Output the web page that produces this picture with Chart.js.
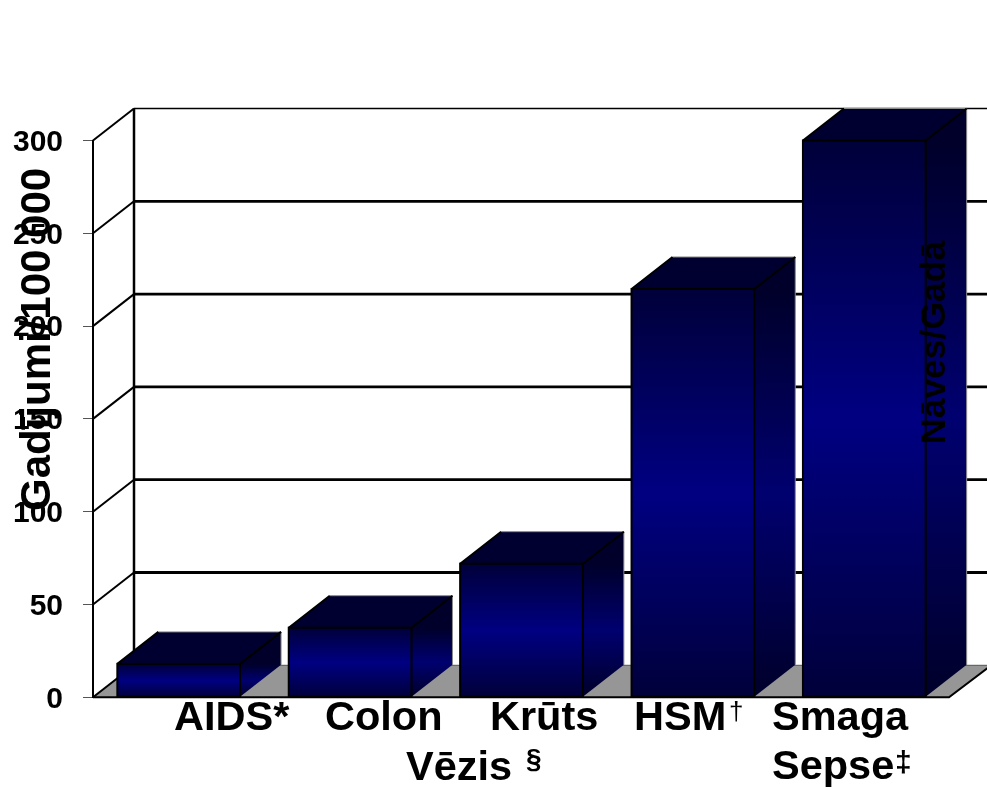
<!DOCTYPE html>
<html>
<head>
<meta charset="utf-8">
<style>
html, body { margin: 0; padding: 0; background: #fff; }
canvas { display: block; }
</style>
<script src="https://cdn.jsdelivr.net/npm/chart.js@4"></script>
</head>
<body>
<canvas id="chart" width="987" height="788"></canvas>
<script>
// Incidence per 100 000 population
const categories = ['AIDS', 'Colon', 'Krūts Vēzis', 'HSM', 'Smaga Sepse'];
const cases = [18, 37.5, 72, 220, 300];
const yTicks = [0, 50, 100, 150, 200, 250, 300];
const yTitle = 'Gadījumi/100 000';
const rightTitle = 'Nāves/Gadā';

const FONT = '"Liberation Sans", Arial, sans-serif';
const DEPTH_X = 41;
const DEPTH_Y = -32;

// Each text run of the hand-placed category captions
const captionRuns = [
  { text: 'AIDS*', x: 174, y: 730, size: 41.5 },
  { text: 'Colon', x: 325, y: 730, size: 41.5 },
  { text: 'Krūts', x: 490, y: 730, size: 41.5 },
  { text: 'Vēzis', x: 406, y: 780, size: 41.5 },
  { text: '§', x: 526, y: 768, size: 28 },
  { text: 'HSM', x: 634, y: 730, size: 41.5 },
  { text: '†', x: 729, y: 720, size: 26, weight: 'normal' },
  { text: 'Smaga', x: 772, y: 730, size: 41.5 },
  { text: 'Sepse', x: 772, y: 779, size: 41.5 },
  { text: '‡', x: 895, y: 772, size: 30 }
];

function axialGradient(ctx, top, bottom, edge, middle) {
  const g = ctx.createLinearGradient(0, top, 0, bottom);
  g.addColorStop(0, edge);
  g.addColorStop(0.5, middle);
  g.addColorStop(1, edge);
  return g;
}

// Back wall, floor and the side and top faces of each box
const backdrop = {
  id: 'backdrop',
  beforeDatasetsDraw(chart) {
    const { ctx, scales: { y }, chartArea } = chart;
    const left = chartArea.left;
    const right = chartArea.right;
    const zero = y.getPixelForValue(0);
    const top = y.getPixelForValue(yTicks[yTicks.length - 1]);
    ctx.save();

    // floor
    ctx.beginPath();
    ctx.moveTo(left, zero);
    ctx.lineTo(left + DEPTH_X, zero + DEPTH_Y);
    ctx.lineTo(right + DEPTH_X, zero + DEPTH_Y);
    ctx.lineTo(right, zero);
    ctx.closePath();
    ctx.fillStyle = '#969696';
    ctx.fill();
    ctx.strokeStyle = '#555';
    ctx.lineWidth = 1;
    ctx.beginPath();
    ctx.moveTo(left + DEPTH_X, zero + DEPTH_Y);
    ctx.lineTo(right + DEPTH_X, zero + DEPTH_Y);
    ctx.stroke();

    // horizontal wall lines and their returns to the value axis
    ctx.strokeStyle = '#000';
    yTicks.forEach(v => {
      const py = y.getPixelForValue(v);
      ctx.lineWidth = 2;
      ctx.beginPath();
      ctx.moveTo(left, py);
      ctx.lineTo(left + DEPTH_X, py + DEPTH_Y);
      ctx.stroke();
      if (v > 0) {
        ctx.lineWidth = v === yTicks[yTicks.length - 1] ? 1.5 : 2.8;
        ctx.beginPath();
        ctx.moveTo(left + DEPTH_X, py + DEPTH_Y);
        ctx.lineTo(chart.width, py + DEPTH_Y);
        ctx.stroke();
      }
    });

    // back corner post
    ctx.lineWidth = 2.5;
    ctx.beginPath();
    ctx.moveTo(left + DEPTH_X, top + DEPTH_Y);
    ctx.lineTo(left + DEPTH_X, zero + DEPTH_Y);
    ctx.stroke();

    // floor front edge and right-hand return
    ctx.lineWidth = 2;
    ctx.beginPath();
    ctx.moveTo(left, zero);
    ctx.lineTo(right - 1, zero);
    ctx.lineTo(right - 1 + DEPTH_X, zero + DEPTH_Y + 1);
    ctx.stroke();

    // box sides and tops
    chart.getDatasetMeta(0).data.forEach(bar => {
      const half = bar.width / 2;
      const x0 = bar.x - half;
      const x1 = bar.x + half;
      const yT = bar.y;
      const yB = bar.base;

      ctx.beginPath();
      ctx.moveTo(x1, yT);
      ctx.lineTo(x1 + DEPTH_X, yT + DEPTH_Y);
      ctx.lineTo(x1 + DEPTH_X, yB + DEPTH_Y);
      ctx.lineTo(x1, yB);
      ctx.closePath();
      ctx.fillStyle = axialGradient(ctx, yT, yB, '#00002a', '#000070');
      ctx.fill();

      ctx.beginPath();
      ctx.moveTo(x0, yT);
      ctx.lineTo(x0 + DEPTH_X, yT + DEPTH_Y);
      ctx.lineTo(x1 + DEPTH_X, yT + DEPTH_Y);
      ctx.lineTo(x1, yT);
      ctx.closePath();
      ctx.fillStyle = '#000030';
      ctx.fill();

      // soft outer outline
      ctx.strokeStyle = '#8a8a8a';
      ctx.lineWidth = 1;
      ctx.beginPath();
      ctx.moveTo(x0 + DEPTH_X, yT + DEPTH_Y);
      ctx.lineTo(x1 + DEPTH_X, yT + DEPTH_Y);
      ctx.lineTo(x1 + DEPTH_X, yB + DEPTH_Y);
      ctx.stroke();

      // inner edges
      ctx.strokeStyle = '#000';
      ctx.lineWidth = 2;
      ctx.beginPath();
      ctx.moveTo(x0, yT);
      ctx.lineTo(x0 + DEPTH_X, yT + DEPTH_Y);
      ctx.moveTo(x1, yT);
      ctx.lineTo(x1 + DEPTH_X, yT + DEPTH_Y);
      ctx.stroke();
    });
    ctx.restore();
  },
  afterDatasetsDraw(chart) {
    const { ctx } = chart;
    ctx.save();

    // crisp outline round each front face
    ctx.strokeStyle = '#000';
    ctx.lineWidth = 2;
    chart.getDatasetMeta(0).data.forEach(bar => {
      ctx.strokeRect(bar.x - bar.width / 2, bar.y, bar.width, bar.base - bar.y);
    });

    ctx.fillStyle = '#000';
    ctx.textBaseline = 'alphabetic';
    ctx.textAlign = 'left';

    captionRuns.forEach(run => {
      ctx.font = (run.weight || 'bold') + ' ' + run.size + 'px ' + FONT;
      ctx.fillText(run.text, run.x, run.y);
    });

    ctx.font = 'bold 42px ' + FONT;
    ctx.save();
    ctx.translate(50, 511);
    ctx.rotate(-Math.PI / 2);
    ctx.fillText(yTitle, 0, 0);
    ctx.restore();

    ctx.font = 'bold 35.5px ' + FONT;
    ctx.save();
    ctx.translate(945, 444);
    ctx.rotate(-Math.PI / 2);
    ctx.fillText(rightTitle, 0, 0);
    ctx.restore();

    ctx.restore();
  }
};

new Chart(document.getElementById('chart'), {
  type: 'bar',
  data: {
    labels: categories,
    datasets: [{
      data: cases,
      barPercentage: 0.716,
      categoryPercentage: 1,
      borderWidth: 0,
      backgroundColor(context) {
        const { chart, raw } = context;
        const scale = chart.scales && chart.scales.y;
        const top = scale ? scale.getPixelForValue(raw) : NaN;
        const bottom = scale ? scale.getPixelForValue(0) : NaN;
        if (!Number.isFinite(top) || !Number.isFinite(bottom)) return '#000080';
        return axialGradient(chart.ctx, top, bottom, '#00003a', '#000082');
      }
    }]
  },
  options: {
    responsive: false,
    animation: false,
    layout: { padding: { left: 0, right: 37, top: 140.5, bottom: 0 } },
    plugins: { legend: { display: false }, tooltip: { enabled: false } },
    scales: {
      x: {
        grid: { display: false },
        border: { display: false },
        ticks: { display: false },
        afterFit(scale) { scale.height = 788 - 697.3; }
      },
      y: {
        min: 0,
        max: 300,
        afterFit(scale) { scale.width = 93; },
        afterBuildTicks(scale) { scale.ticks = yTicks.map(value => ({ value })); },
        grid: { drawOnChartArea: false, tickLength: 10, tickColor: '#555', lineWidth: 1 },
        border: { display: true, color: '#000', width: 2 },
        ticks: {
          color: '#000',
          padding: 20,
          labelOffset: 2,
          font: { family: FONT, size: 30, weight: 'bold' }
        }
      }
    }
  },
  plugins: [backdrop]
});
</script>
</body>
</html>
